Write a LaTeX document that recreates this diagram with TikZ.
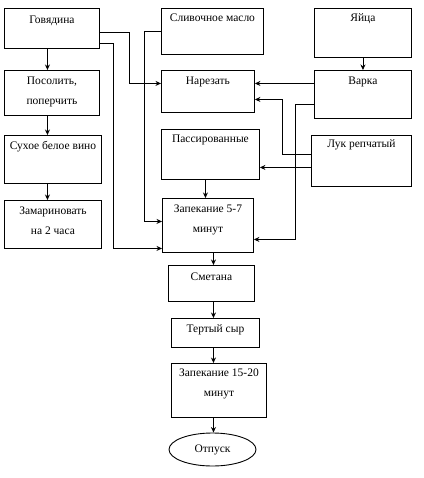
\documentclass[tikz,border=0pt]{standalone}
\usepackage{fontspec}
\setmainfont{Liberation Serif}
\usetikzlibrary{arrows.meta,shapes.geometric,calc}
\begin{document}
\begin{tikzpicture}[x=1pt,y=-1pt,
 box/.style={draw,line width=0.9pt,rectangle,inner sep=0pt,anchor=north west},
 lbl/.style={font=\fontsize{11.5}{13.8}\selectfont,inner sep=0pt,anchor=base},
 lbltwo/.style={font=\fontsize{11.5}{13.8}\selectfont,inner sep=0pt,anchor=north,align=center},
 arr/.style={line width=0.9pt,-{Stealth[length=5.5pt,width=5pt]}}]
\useasboundingbox (0,0) rectangle (423,478);
\fill[white] (0,0) rectangle (423,478);
% boxes
\node[box,minimum width=95pt,minimum height=40pt] (gov) at (4,8) {};
\node[box,minimum width=102pt,minimum height=46pt] (maslo) at (161,8) {};
\node[box,minimum width=97pt,minimum height=49pt] (egg) at (314,8) {};
\node[box,minimum width=95pt,minimum height=45pt] (pos) at (4,70) {};
\node[box,minimum width=93pt,minimum height=42pt] (nar) at (161,70) {};
\node[box,minimum width=97pt,minimum height=48pt] (var) at (314,70) {};
\node[box,minimum width=97pt,minimum height=48pt] (vino) at (4,135) {};
\node[box,minimum width=98pt,minimum height=50pt] (pass) at (161,129) {};
\node[box,minimum width=100pt,minimum height=51pt] (luk) at (311,135) {};
\node[box,minimum width=97pt,minimum height=48pt] (mar) at (4,200) {};
\node[box,minimum width=91pt,minimum height=54pt] (zap) at (162,198) {};
\node[box,minimum width=86pt,minimum height=36pt] (smet) at (168,265) {};
\node[box,minimum width=88pt,minimum height=29pt] (syr) at (171,318) {};
\node[box,minimum width=95pt,minimum height=54pt] (zapb) at (171,363) {};
\node[draw,line width=0.9pt,ellipse,inner sep=0pt,minimum width=87pt,minimum height=33pt,
  font=\fontsize{11.5}{13.8}\selectfont] (otp) at (212.5,449.5) {Отпуск};
% labels
\node[lbl] (govt) at ([yshift=-16pt]gov.north) {Говядина};
\node[lbl] (maslot) at ([yshift=-14pt]maslo.north) {Сливочное масло};
\node[lbl] (eggt) at ([yshift=-14pt]egg.north) {Яйца};
\node[lbltwo] (post) at ([yshift=-7pt]pos.north) {Посолить,\\[6pt]поперчить};
\node[lbl] (nart) at ([yshift=-15pt]nar.north) {Нарезать};
\node[lbl] (vart) at ([yshift=-15pt]var.north) {Варка};
\node[lbl] (vinot) at ([yshift=-15pt]vino.north) {Сухое белое вино};
\node[lbl] (passt) at ([yshift=-14pt]pass.north) {Пассированные};
\node[lbl] (lukt) at ([yshift=-13pt]luk.north) {Лук репчатый};
\node[lbltwo] (mart) at ([yshift=-7pt]mar.north) {Замариновать\\[6pt]на 2 часа};
\node[lbltwo] (zapt) at ([yshift=-7pt]zap.north) {Запекание 5-7\\[6pt]минут};
\node[lbl] (smett) at ([yshift=-15pt]smet.north) {Сметана};
\node[lbl] (syrt) at ([yshift=-14pt]syr.north) {Тертый сыр};
\node[lbltwo] (zapbt) at ([yshift=-6pt]zapb.north) {Запекание 15-20\\[6pt]минут};
% connectors
\draw[arr] ([xshift=-4.5pt]gov.south) -- ([xshift=-4.5pt]gov.south |- pos.north);
\draw[arr] ([xshift=-4.5pt]pos.south) -- ([xshift=-4.5pt]pos.south |- vino.north);
\draw[arr] ([xshift=-4.5pt]pos.south |- vino.south) -- ([xshift=-4.5pt]pos.south |- mar.north);
\draw[arr] (egg.south) -- (egg.south |- var.north);
\draw[arr] ([yshift=-4pt]gov.east) -- ++(30pt,0pt) |- ([yshift=8pt]nar.west);
\draw[arr] ([yshift=-15pt]gov.east) -- ++(14pt,0pt) |- ([yshift=-23pt]zap.west);
\draw[arr] (maslo.west) -- ++(-17pt,0pt) |- ([yshift=4pt]zap.west);
\draw[arr] ([yshift=11pt]var.west) -- ([yshift=11pt]var.west -| nar.east);
\draw[arr] ([yshift=-10pt]var.west) -- ++(-19pt,0pt) |- ([yshift=-14pt]zap.east);
\draw[arr] ([yshift=6.5pt]luk.west) -- ++(-29pt,0pt) |- ([yshift=-8pt]nar.east);
\draw[arr] ([yshift=-6.5pt]luk.west) -- ([yshift=-6.5pt]luk.west -| pass.east);
\draw[arr] ([xshift=-5pt]pass.south) -- ([xshift=-5pt]pass.south |- zap.north);
\draw[arr] ([xshift=5.5pt]zap.south) -- ([xshift=5.5pt]zap.south |- smet.north);
\draw[arr] ([xshift=5.5pt]zap.south |- smet.south) -- ([xshift=5.5pt]zap.south |- syr.north);
\draw[arr] ([xshift=5.5pt]zap.south |- syr.south) -- ([xshift=5.5pt]zap.south |- zapb.north);
\draw[arr] ([xshift=5.5pt]zap.south |- zapb.south) -- ([xshift=5.5pt]zap.south |- otp.north);
\end{tikzpicture}
\end{document}
